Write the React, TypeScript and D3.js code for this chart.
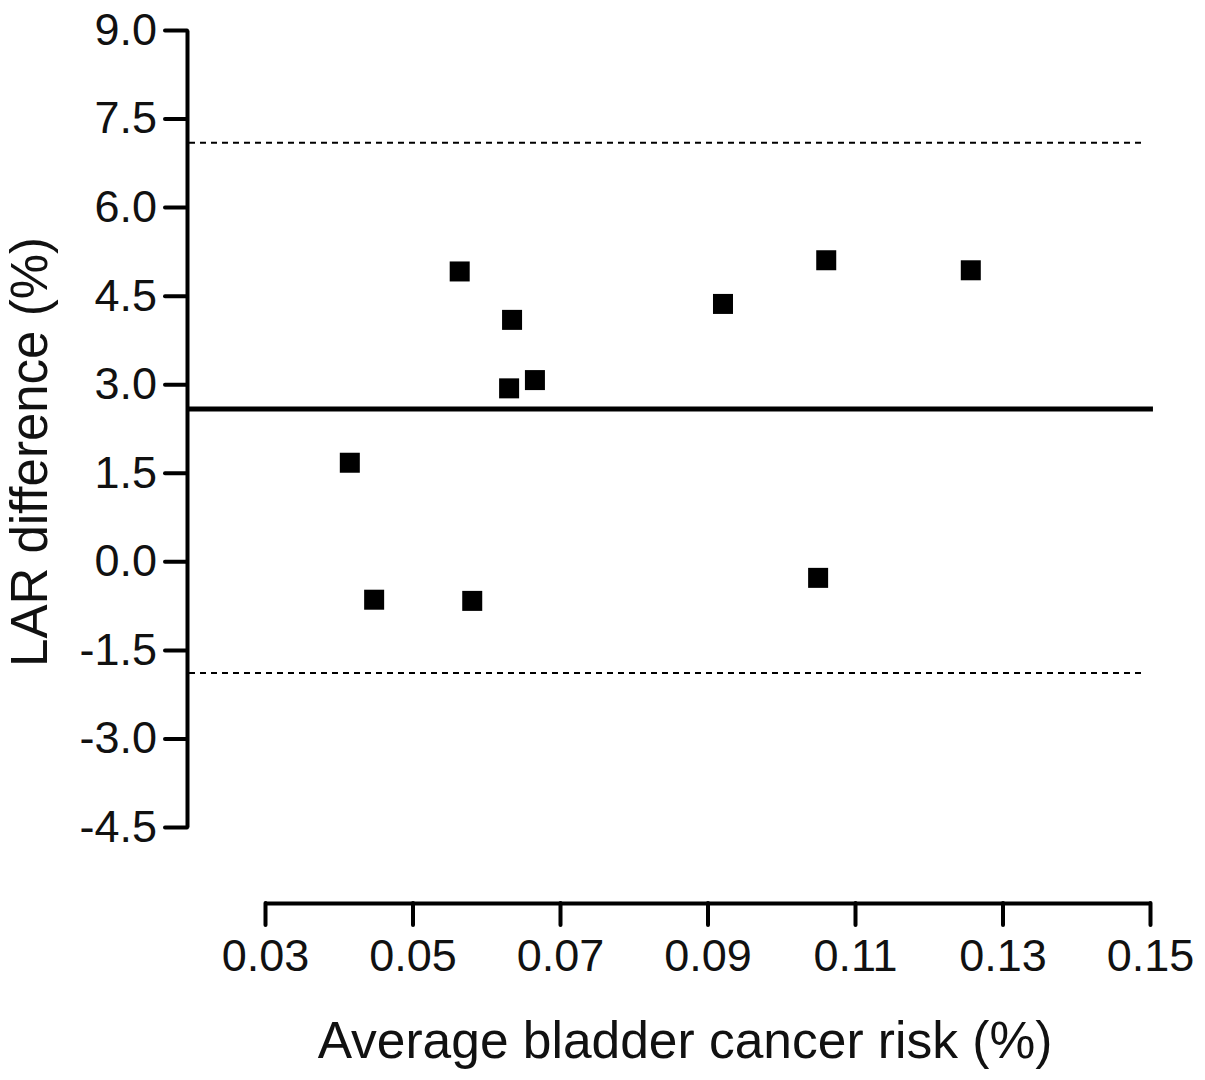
import { useEffect, useRef } from "react";
import * as d3 from "d3";

// average bladder cancer risk (%) vs LAR difference (%)
const avgRisk = [0.0415, 0.0448, 0.0564, 0.0581, 0.0631, 0.0635, 0.0666, 0.0921, 0.105, 0.1061, 0.1257];
const larDiff = [1.67, -0.65, 4.91, -0.67, 2.93, 4.09, 3.07, 4.36, -0.28, 5.1, 4.93];

const meanDiff = 2.58;
const upperLimit = 7.09;
const lowerLimit = -1.89;

const xTicks = [0.03, 0.05, 0.07, 0.09, 0.11, 0.13, 0.15];
const yTicks = [-4.5, -3.0, -1.5, 0.0, 1.5, 3.0, 4.5, 6.0, 7.5, 9.0];

const W = 1205;
const H = 1080;
const axisX = 187; // y axis position
const axisY = 903; // x axis position
const font = "'Liberation Sans', Arial, sans-serif";

const App = () => {
  const xAxisRef = useRef<SVGGElement>(null);
  const yAxisRef = useRef<SVGGElement>(null);

  const xScale = d3.scaleLinear().domain([0.03, 0.15]).range([265, 1150]);
  const yScale = d3.scaleLinear().domain([-4.5, 9]).range([827, 30]);

  useEffect(() => {
    document.body.style.margin = "0";

    const xAxis = d3
      .axisBottom(xScale)
      .tickValues(xTicks)
      .tickSizeInner(22)
      .tickSizeOuter(0)
      .tickPadding(14)
      .tickFormat((d) => (+d).toFixed(2));
    const yAxis = d3
      .axisLeft(yScale)
      .tickValues(yTicks)
      .tickSizeInner(22)
      .tickSizeOuter(0)
      .tickPadding(8)
      .tickFormat((d) => (+d).toFixed(1));

    const gx = d3.select(xAxisRef.current).call(xAxis);
    const gy = d3.select(yAxisRef.current).call(yAxis);

    [gx, gy].forEach((g) => {
      g.selectAll(".domain").attr("stroke", "#000").attr("stroke-width", 4);
      g.selectAll(".tick line").attr("stroke", "#000").attr("stroke-width", 4).attr("stroke-linecap", "round");
      g.selectAll(".tick text")
        .attr("fill", "#111")
        .style("font-family", font)
        .style("font-size", "45px");
    });
  }, []);

  const pts = avgRisk.map((x, i) => ({ x, y: larDiff[i] }));

  return (
    <svg width={W} height={H} style={{ display: "block", background: "#fff" }}>
      <g ref={xAxisRef} transform={`translate(0,${axisY})`} />
      <g ref={yAxisRef} transform={`translate(${axisX},0)`} />

      {/* limits of agreement */}
      {[upperLimit, lowerLimit].map((v) => (
        <line
          key={v}
          x1={axisX + 2}
          x2={xScale(0.1493)}
          y1={yScale(v)}
          y2={yScale(v)}
          stroke="#000"
          strokeWidth={2}
          strokeDasharray="6 5"
        />
      ))}
      {/* mean difference */}
      <line
        x1={axisX + 2}
        x2={xScale(0.1504)}
        y1={yScale(meanDiff)}
        y2={yScale(meanDiff)}
        stroke="#000"
        strokeWidth={5}
      />

      {pts.map((d, i) => (
        <rect key={i} x={xScale(d.x) - 10} y={yScale(d.y) - 10} width={20} height={20} fill="#000" />
      ))}

      <text
        x={685}
        y={1058}
        textAnchor="middle"
        fontFamily={font}
        fontSize={51.5}
        fill="#111"
      >
        Average bladder cancer risk (%)
      </text>
      <text
        transform={`translate(47,452) rotate(-90)`}
        textAnchor="middle"
        fontFamily={font}
        fontSize={51}
        fill="#111"
      >
        LAR difference (%)
      </text>
    </svg>
  );
};

export default App;
